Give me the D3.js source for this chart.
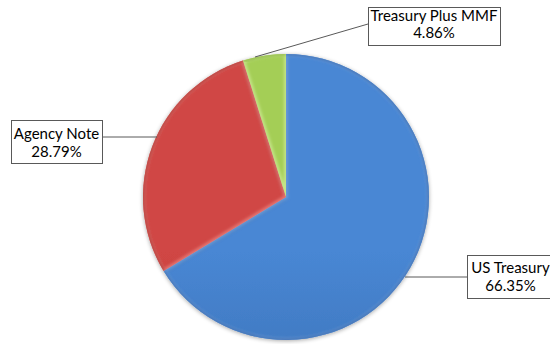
<!DOCTYPE html>
<html>
<head>
<meta charset="utf-8">
<script src="https://cdn.jsdelivr.net/npm/d3@7"></script>
<style>
  html, body { margin: 0; padding: 0; background: #fff; }
  svg { display: block; }
  text { font-family: Lato, "Open Sans", sans-serif; font-size: 15px; fill: #000; }
</style>
</head>
<body>
<svg id="chart" width="550" height="344"></svg>
<script>
// Portfolio allocation by instrument type (percent)
const categories = ["US Treasury", "Agency Note", "Treasury Plus MMF"];
const shares = [66.35, 28.79, 4.86];
const shareLabels = ["66.35%", "28.79%", "4.86%"];

// Slice colour ramps: [light top, dark bottom, bevel highlight]
const sliceColors = [
  ["#4887d4", "#3462a2", "#7fb0ee"],
  ["#d04644", "#a52f2d", "#ee8a86"],
  ["#a4ce56", "#82ab38", "#d2ee9c"]
];

// Callout boxes: [x, y, width, height, first baseline offset, second baseline offset]
const boxes = [
  [467, 255, 87, 43, 17.5, 35.5],
  [11, 120, 91, 43, 19, 36.5],
  [368, 7, 132, 38, 13.7, 31.3]
];
const leaders = [
  [[405, 277], [467, 277]],
  [[157, 137], [102, 137]],
  [[255, 57], [368, 24]]
];

const svg = d3.select("#chart");
const cx = 286, cy = 197, r = 143;

const defs = svg.append("defs");
sliceColors.forEach((c, i) => {
  const g = defs.append("linearGradient")
    .attr("id", "grad" + i)
    .attr("gradientUnits", "userSpaceOnUse")
    .attr("x1", 0).attr("y1", cy - r).attr("x2", 0).attr("y2", cy + r);
  g.append("stop").attr("offset", "0%").attr("stop-color", c[0]);
  g.append("stop").attr("offset", "100%").attr("stop-color", c[1]);
});
const blur = defs.append("filter").attr("id", "soft").attr("x", "-10%").attr("y", "-10%").attr("width", "120%").attr("height", "120%");
blur.append("feGaussianBlur").attr("stdDeviation", 1.6);
const shadow = defs.append("filter").attr("id", "shadow").attr("x", "-10%").attr("y", "-10%").attr("width", "120%").attr("height", "120%");
shadow.append("feGaussianBlur").attr("in", "SourceAlpha").attr("stdDeviation", 2).attr("result", "b");
shadow.append("feOffset").attr("in", "b").attr("dx", 0).attr("dy", 1).attr("result", "o");
shadow.append("feComponentTransfer").attr("in", "o").attr("result", "s")
  .append("feFuncA").attr("type", "linear").attr("slope", 0.35);
const merge = shadow.append("feMerge");
merge.append("feMergeNode").attr("in", "s");
merge.append("feMergeNode").attr("in", "SourceGraphic");

const pie = d3.pie().sort(null).value(d => d);
const arcs = pie(shares);
const arc = d3.arc().innerRadius(0).outerRadius(r);

const g = svg.append("g").attr("transform", `translate(${cx},${cy})`);

arcs.forEach((a, i) => {
  defs.append("clipPath").attr("id", "clip" + i)
    .append("path").attr("d", arc(a)).attr("transform", `translate(${cx},${cy})`);
});

const slices = g.selectAll("g.slice").data(arcs).join("g").attr("class", "slice")
  .attr("filter", "url(#shadow)");

slices.append("path")
  .attr("d", arc)
  .attr("fill", (d, i) => `url(#grad${i})`);

// bevel highlight along each slice's edges
const bevel = svg.append("g");
arcs.forEach((a, i) => {
  bevel.append("g").attr("clip-path", `url(#clip${i})`)
    .append("path")
    .attr("transform", `translate(${cx},${cy})`)
    .attr("d", arc(a))
    .attr("fill", "none")
    .attr("stroke", sliceColors[i][2])
    .attr("stroke-width", 4)
    .attr("stroke-opacity", 0.7)
    .attr("filter", "url(#soft)");
  // darker rim at the outer edge
  bevel.append("g").attr("clip-path", `url(#clip${i})`)
    .append("path")
    .attr("transform", `translate(${cx},${cy})`)
    .attr("d", d3.arc().innerRadius(r).outerRadius(r)(a))
    .attr("fill", "none")
    .attr("stroke", sliceColors[i][1])
    .attr("stroke-width", 3)
    .attr("stroke-opacity", 0.8)
    .attr("filter", "url(#soft)");
});

// leader lines
const line = d3.line();
svg.append("g").selectAll("path").data(leaders).join("path")
  .attr("d", d => line(d))
  .attr("fill", "none")
  .attr("stroke", "#595959")
  .attr("stroke-width", 1);

// callout boxes
const callouts = svg.append("g").selectAll("g").data(categories).join("g");
callouts.append("rect")
  .attr("x", (d, i) => boxes[i][0] + 0.5)
  .attr("y", (d, i) => boxes[i][1] + 0.5)
  .attr("width", (d, i) => boxes[i][2])
  .attr("height", (d, i) => boxes[i][3])
  .attr("fill", "#fff")
  .attr("stroke", "#595959")
  .attr("stroke-width", 1);
callouts.append("text")
  .attr("x", (d, i) => boxes[i][0] + boxes[i][2] / 2)
  .attr("y", (d, i) => boxes[i][1] + boxes[i][4])
  .attr("text-anchor", "middle")
  .text(d => d);
callouts.append("text")
  .attr("x", (d, i) => boxes[i][0] + boxes[i][2] / 2)
  .attr("y", (d, i) => boxes[i][1] + boxes[i][5])
  .attr("text-anchor", "middle")
  .text((d, i) => shareLabels[i]);
</script>
</body>
</html>
